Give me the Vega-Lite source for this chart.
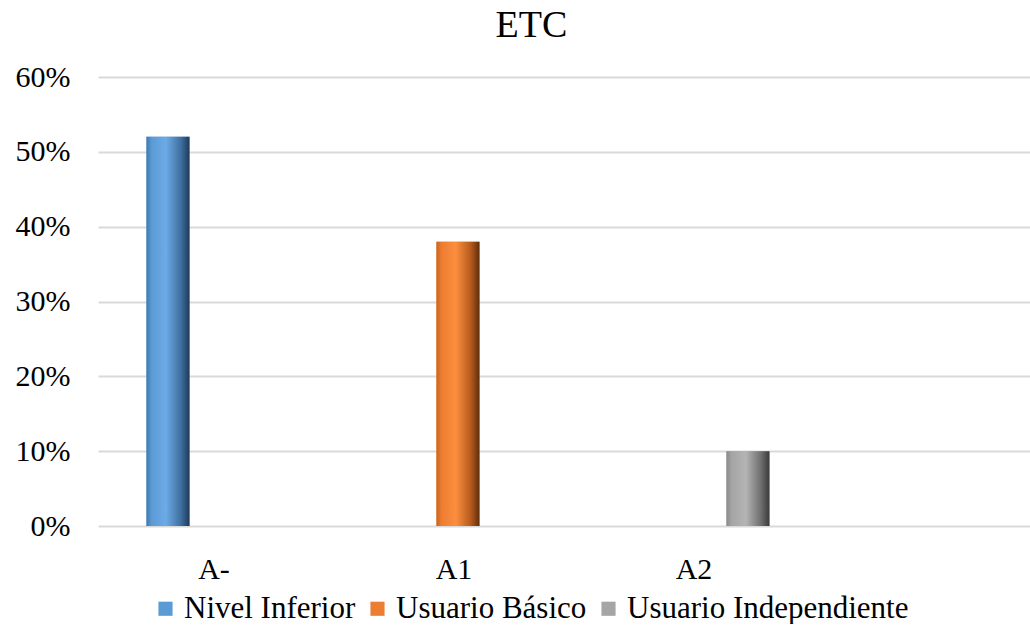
{
  "$schema": "https://vega.github.io/schema/vega-lite/v6.json",
  "width": 935,
  "height": 449,
  "padding": {"left": 5, "top": 7, "right": 0, "bottom": 0},
  "background": "white",
  "title": {"text": "ETC", "font": "Liberation Serif", "fontSize": 38, "fontWeight": "normal", "color": "#000000", "offset": 17, "dx": -34},
  "data": {"values": [
    {"nivel": "A-", "serie": "Nivel Inferior", "valor": 0.52},
    {"nivel": "A1", "serie": "Usuario Básico", "valor": 0.38},
    {"nivel": "A2", "serie": "Usuario Independiente", "valor": 0.10}
  ]},
  "encoding": {
    "x": {"field": "nivel", "type": "nominal", "sort": ["A-", "A1", "A2"],
      "scale": {"paddingInner": 0, "paddingOuter": 0.448, "align": 0},
      "axis": {"title": null, "labelAngle": 0, "ticks": false, "domain": false, "labelFont": "Liberation Serif", "labelFontSize": 30, "labelColor": "#000000", "labelPadding": 28, "labelOffset": -4}},
    "xOffset": {"field": "serie", "type": "nominal", "sort": ["Nivel Inferior", "Usuario Básico", "Usuario Independiente"],
      "scale": {"paddingInner": 0.14, "paddingOuter": 0.97}},
    "y": {"field": "valor", "type": "quantitative",
      "scale": {"domain": [0, 0.6]},
      "axis": {"title": null, "format": ".0%", "values": [0, 0.1, 0.2, 0.3, 0.4, 0.5, 0.6], "ticks": false, "domain": false, "gridColor": "#d9d9d9", "gridWidth": 2, "labelFont": "Liberation Serif", "labelFontSize": 30, "labelColor": "#000000", "labelPadding": 28, "minExtent": 93, "maxExtent": 93}}
  },
  "layer": [
    {
      "mark": {"type": "bar"},
      "encoding": {
        "color": {"field": "serie", "type": "nominal", "sort": ["Nivel Inferior", "Usuario Básico", "Usuario Independiente"],
          "scale": {"range": ["#5b9bd5", "#ed7d31", "#a5a5a5"]},
          "legend": {"title": null, "orient": "none", "legendX": 52, "legendY": 516, "direction": "horizontal", "symbolType": "square", "symbolSize": 200, "symbolStrokeWidth": 0, "labelFont": "Liberation Serif", "labelFontSize": 31, "labelLimit": 600, "labelColor": "#000000", "columnPadding": 6, "labelOffset": 3}}
      }
    },
    {
      "transform": [{"filter": "datum.serie === 'Nivel Inferior'"}],
      "mark": {"type": "bar", "color": {"gradient": "linear", "x1": 0, "x2": 1, "y1": 0, "y2": 0, "stops": [
        {"offset": 0, "color": "#3f78b0"}, {"offset": 0.12, "color": "#5b9bd5"}, {"offset": 0.45, "color": "#6cabe6"}, {"offset": 0.8, "color": "#3f6f9f"}, {"offset": 1, "color": "#1d3a5a"}]}}
    },
    {
      "transform": [{"filter": "datum.serie === 'Usuario Básico'"}],
      "mark": {"type": "bar", "color": {"gradient": "linear", "x1": 0, "x2": 1, "y1": 0, "y2": 0, "stops": [
        {"offset": 0, "color": "#c8641f"}, {"offset": 0.12, "color": "#ed7d31"}, {"offset": 0.45, "color": "#fb8f3e"}, {"offset": 0.8, "color": "#b55a1c"}, {"offset": 1, "color": "#5e2e0c"}]}}
    },
    {
      "transform": [{"filter": "datum.serie === 'Usuario Independiente'"}],
      "mark": {"type": "bar", "color": {"gradient": "linear", "x1": 0, "x2": 1, "y1": 0, "y2": 0, "stops": [
        {"offset": 0, "color": "#8a8a8a"}, {"offset": 0.12, "color": "#a5a5a5"}, {"offset": 0.45, "color": "#b4b4b4"}, {"offset": 0.8, "color": "#6f6f6f"}, {"offset": 1, "color": "#3a3a3a"}]}}
    }
  ],
  "config": {"view": {"stroke": null}, "legend": {"labelFont": "Liberation Serif"}}
}
